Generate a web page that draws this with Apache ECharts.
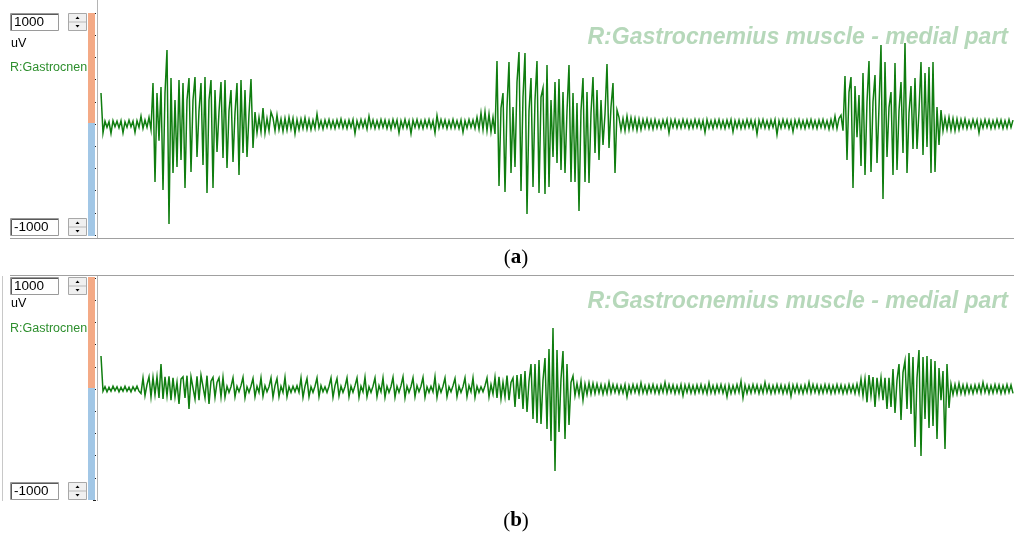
<!DOCTYPE html>
<html>
<head>
<meta charset="utf-8">
<script src="https://cdn.jsdelivr.net/npm/echarts@6/dist/echarts.min.js"></script>
<style>
html,body{margin:0;padding:0;background:#fff;}
#chart{width:1014px;height:535px;}
</style>
</head>
<body>
<div id="chart"></div>
<script>
// ---- Data (uV), one sample every ~2 px of the recording window ----
const channelName = "R:Gastrocnemius muscle - medial part";
const channelShort = "R:Gastrocnen";
const unitLabel = "uV";
const rangeMax = 1000;
const rangeMin = -1000;
const panelLabels = ["a", "b"];

// Panel (a)
const aPre = [280,-80,25,-30,20,-85,30,-25,25,-35,30,-80,20,-30,35,-25,25,-75,30,-30,70,-40,35,-30,60,-50];
const aBurst1 = [369,-522,279,-150,333,-594,279,666,-900,414,
 -441,216,-387,396,-324,369,-576,216,414,-432,
 216,423,-297,120,369,-369,423,-621,216,396,
 -576,306,-252,110,378,-306,396,-396,120,306,
 -342,100,369,-459,396,-261,306,-297,90,405,
 -216,108,-80,60,-70,144,-81,50,-60,108];
const aMid1 = [55,-60,80,-50,45,-65,50,-55,60,-45,
 50,-85,40,-50,45,-40,55,-45,40,-50,
 35,-40,90,-35,30,-45,35,-30,40,-35,
 30,-40,35,-30,45,-35,30,-40,35,-30,
 40,-85,30,-35,40,-30,35,-45,70,-30,
 35,-40,30,-35,40,-30,35,-40,30,-45,
 40,-30,35,-80,30,-35,40,-35,30,-85,
 35,-30,40,-35,30,-40,35,-30,40,-35,
 30,-80,75,-35,40,-30,35,-40,30,-35,
 40,-35,30,-40,35,-75,30,-35,40,-30,
 35,-40,60,-45,100,-50,110,-60,90,-70];
const aBurst2 = [60,-90,567,-558,144,279,-612,153,558,-441,153,-387,378,648,-603,243,639,
 -810,120,414,-567,216,567,-621,243,324,-630,531,-567,216,-297,378,-351,405,-414,288,-441,
 120,531,-522,279,-522,189,-783,120,414,-522,288,-531,100,423,-261,306,-324,216,-189,90,
 540,-216,153,369,-441,126];
const aMid2 = [60,-55,50,-60,70,-50,55,-45,50,-55,
 45,-50,40,-35,45,-40,35,-45,40,-35,
 30,-40,35,-30,40,-80,35,-30,40,-35,
 30,-35,40,-30,35,-40,30,-35,40,-30,
 35,-40,30,-75,40,-35,30,-40,35,-30,
 40,-35,30,-40,35,-30,40,-70,30,-35,
 35,-40,30,-35,40,-30,35,-40,30,-90,
 35,-30,40,-35,30,-40,35,-30,40,-95,
 30,-35,40,-30,35,-40,30,-70,35,-30,
 40,-35,30,-40,35,-30,40,-35,30,-40,
 35,-30,40,-35,30,-45,40,-35,70,-40,50];
const aBurst3 = [80,-60,432,-324,288,423,-576,342,-120,261,
 -378,459,-459,200,567,-432,200,441,-351,150,
 711,-675,558,-297,150,288,-459,549,-414,120,
 378,-261,729,-441,100,342,-225,414,-225,120,
 558,-279,459,-207,513,-441,558,-432,153,-189,
 126];
const aPost = [-60,55,-50,60,-55,50,-60,45,-50,40,
 -35,45,-40,30,-35,40,-30,35,-80,30,
 -35,40,-30,35,-40,30,-35,40,-30,35,
 -40,30,-35,40,-30,35];

// Panel (b)
const bStart = [297,-20];
const bThin = [20,-25,15,-20,25,-15,20,-25,15,-20,25,-20,15,-25,20,-15,25,-20];
const bActive = [-40,100,-60,40,110,-70,105,-50,110,-80,
 225,-90,110,-60,115,-100,100,-70,60,-135,
 90,110,-80,120,-180,110,120,-90,115,-100,
 125,110,-80,120,-135,70,105,-75,60];
const bRegular = [100,-70,105,-75,25,-30,20,100,-70,25,
 -25,30,105,-80,20,-30,25,95,-70,25,
 -30,100,-65,30,-25,20,100,-75,30,95,
 -70,25,-30,105,-70,20,-30,25,-25,30,
 -30,100,-75,25,95,-70,20,-30,25,100,
 -70,30,-25,20,-30,25,100,-75,30,95,
 -65,25,-30,20,100,-70,25,-30,30,100,
 -75,25,-25,105,-70,20,-30,25,100,-70,
 30,-25,100,-75,25,-30,20,105,-75,25,
 -30,30,110,-80,25,-30,20,100,-70,30,
 -25,25,105,-75,20,-30,25,-25,110,-75,
 30,-30,25,100,-70,20,-25,30,95,-70,
 25,-30,20,100,-70,30,-25,100,-75,25,
 -30,20,-25,30,100,-70,40,-45,105,-80,
 110];
const bPre2 = [-85,60,-70,120,-100];
const bBurst2 = [60,99,-162,126,-90,135,-180,162,-207,70,
 225,-270,225,-306,261,-315,80,279,-360,360,
 -468,549,-738,351,-387,90,342,-450,225,-324,
 60,117];
const bMid = [-60,50,-55,70,-100,45,-50,55,-45,50,
 -40,45,-35,40,-45,35,-40,60,-35,40,
 -30,35,-40,30,-35,40,-70,30,-35,40,
 -30,35,-40,55,-35,30,-40,35,-30,40,
 -35,30,-40,35,-30,60,-35,40,-30,35,
 -40,30,-35,40,-60,35,-30,40,-35,30,
 -40,35,-30,40,-35,30,-40,55,-35,30,
 -40,35,-30,40,-35,30,-70,35,-40,30,
 -35,40,-30,70,-80,35,-40,30,-35,40,
 -30,35,-40,30,-35,60,-30,35,-40,30,
 -35,40,-30,35,-40,30,-35,40,-65,35,
 -30,40,-35,30,-40,35,-30,60,-35,40,
 -30,35,-40,30,-35,40,-30,35,-40,30,
 -35,40,-30,35,-40,30,-35,40,-30,35,
 -40,45];
const bBurst3 = [-40,90,-60,90,-120,126,-60,108,-162,100,
 -60,100,-100,100,-180,100,-162,180,-216,80,
 225,-279,150,252,-180,324,-225,288,-522,100,
 351,-603,288,-270,297,-351,270,-333,252,-450,
 189,-100,162,-540,225];
const bPost = [-171,45,-50,40,-45,50,-40,35,-45,40,
 -35,30,-40,35,-30,40,-35,60,-30,35,
 -40,30,-35,40,-30,35,-40,30,-35,40,
 -30,35,-40];

const signalA = [].concat(aPre, aBurst1, aMid1, aBurst2, aMid2, aBurst3, aPost);
const signalB = [].concat(bStart, bThin, bActive, bRegular, bPre2, bBurst2, bMid, bBurst3, bPost);

// ---- Chart ----
const chart = echarts.init(document.getElementById('chart'), null, {renderer: 'canvas'});
const traceColor = '#0f7d0f';
const panels = [
  {top: 13, sig: signalA, label: panelLabels[0], uvY: 44, nameY: 68, capY: 258, wmY: 38, bar: [13, 123, 236]},
  {top: 278, sig: signalB, label: panelLabels[1], uvY: 304, nameY: 329, capY: 521, wmY: 302, bar: [277, 388, 500]}
];

const grids = [], xAxes = [], yAxes = [], series = [], graphics = [];
const uiFont = '"Liberation Sans", Arial, sans-serif';

panels.forEach((p, k) => {
  grids.push({left: 101, right: 1, top: p.top, height: 222, containLabel: false});
  xAxes.push({type: 'category', gridIndex: k, boundaryGap: false,
    data: p.sig.map((_, i) => i), show: false});
  yAxes.push({type: 'value', gridIndex: k, min: rangeMin, max: rangeMax, interval: 200,
    position: 'left', offset: 5,
    axisLine: {show: false}, axisLabel: {show: false}, splitLine: {show: false},
    axisTick: {show: true, length: 3, inside: false, lineStyle: {color: '#222', width: 1}}});
  series.push({type: 'line', xAxisIndex: k, yAxisIndex: k, data: p.sig, symbol: 'none',
    showSymbol: false, z: 5, lineStyle: {color: traceColor, width: 1.5, join: 'miter'}, animation: false});

  // watermark channel name
  graphics.push({type: 'text', z: 1, x: 1008, y: p.wmY,
    style: {text: channelName, fill: '#b6d8ba', font: 'italic bold 23px "Liberation Sans", Arial, sans-serif',
      textAlign: 'right', textVerticalAlign: 'middle'}});

  // colour scale bar
  graphics.push({type: 'rect', z: 1, shape: {x: 88, y: p.bar[0], width: 7, height: p.bar[1] - p.bar[0]},
    style: {fill: '#f4aa86'}});
  graphics.push({type: 'rect', z: 1, shape: {x: 88, y: p.bar[1], width: 7, height: p.bar[2] - p.bar[1]},
    style: {fill: '#a2c7e6'}});

  // value boxes with spinners
  const boxes = [{y: p.bar[0], t: String(rangeMax)}, {y: p.bar[2] - 18, t: String(rangeMin)}];
  boxes.forEach(b => {
    graphics.push({type: 'rect', z: 3, shape: {x: 10.5, y: b.y + 0.5, width: 48, height: 17},
      style: {fill: '#fff', stroke: '#9a9a9a', lineWidth: 1}});
    graphics.push({type: 'polyline', z: 3, shape: {points: [[11.5, b.y + 17], [11.5, b.y + 1.5], [58, b.y + 1.5]]},
      style: {stroke: '#5a5a5a', lineWidth: 1, fill: null}});
    graphics.push({type: 'text', z: 4, x: 14, y: b.y + 9.5,
      style: {text: b.t, fill: '#000', font: '13.5px ' + uiFont, textVerticalAlign: 'middle'}});
    graphics.push({type: 'rect', z: 3, shape: {x: 68.5, y: b.y + 0.5, width: 18, height: 17},
      style: {fill: '#f0f0f0', stroke: '#a8a8a8', lineWidth: 1}});
    graphics.push({type: 'line', z: 3, shape: {x1: 69, y1: b.y + 9, x2: 86, y2: b.y + 9},
      style: {stroke: '#b8b8b8', lineWidth: 1}});
    graphics.push({type: 'polygon', z: 4, shape: {points: [[75.5, b.y + 6], [79.5, b.y + 6], [77.5, b.y + 3.5]]},
      style: {fill: '#000'}});
    graphics.push({type: 'polygon', z: 4, shape: {points: [[75.5, b.y + 12], [79.5, b.y + 12], [77.5, b.y + 14.5]]},
      style: {fill: '#000'}});
  });

  graphics.push({type: 'text', z: 4, x: 11, y: p.uvY,
    style: {text: unitLabel, fill: '#000', font: '12.5px ' + uiFont, textVerticalAlign: 'middle'}});
  graphics.push({type: 'text', z: 4, x: 10, y: p.nameY,
    style: {text: channelShort, fill: '#2e8f2e', font: '12.5px ' + uiFont, textVerticalAlign: 'middle'}});

  // panel caption
  graphics.push({type: 'text', z: 4, x: 516, y: p.capY,
    style: {text: '{p|(}{l|' + p.label + '}{p|)}', textAlign: 'center', textVerticalAlign: 'middle',
      rich: {p: {fontFamily: '"Liberation Serif", serif', fontSize: 21, fill: '#000', color: '#000'},
             l: {fontFamily: '"Liberation Serif", serif', fontSize: 21, fontWeight: 'bold', fill: '#000', color: '#000'}}}});
});

// window frame lines
graphics.push({type: 'line', z: 2, shape: {x1: 10, y1: 238.5, x2: 1014, y2: 238.5}, style: {stroke: '#a0a0a0', lineWidth: 1}});
graphics.push({type: 'line', z: 2, shape: {x1: 97.5, y1: 0, x2: 97.5, y2: 238}, style: {stroke: '#b4b4b4', lineWidth: 1}});
graphics.push({type: 'line', z: 2, shape: {x1: 10, y1: 275.5, x2: 1014, y2: 275.5}, style: {stroke: '#a0a0a0', lineWidth: 1}});
graphics.push({type: 'line', z: 2, shape: {x1: 97.5, y1: 276, x2: 97.5, y2: 501}, style: {stroke: '#b4b4b4', lineWidth: 1}});
graphics.push({type: 'line', z: 2, shape: {x1: 2.5, y1: 276, x2: 2.5, y2: 501}, style: {stroke: '#c8c8c8', lineWidth: 1}});

chart.setOption({
  animation: false,
  backgroundColor: '#fff',
  grid: grids,
  xAxis: xAxes,
  yAxis: yAxes,
  series: series,
  graphic: graphics
});
</script>
</body>
</html>
